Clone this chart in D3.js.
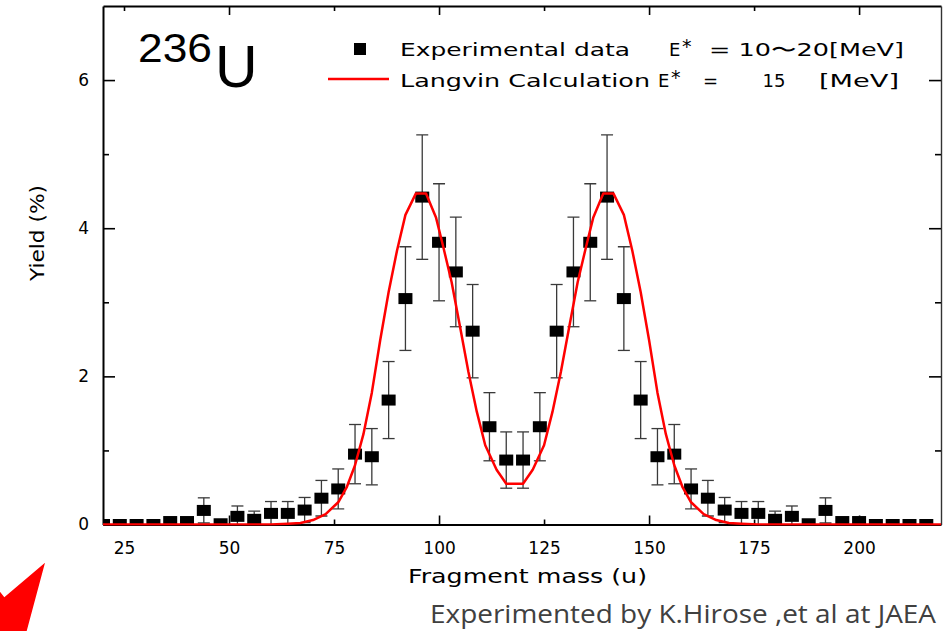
<!DOCTYPE html>
<html>
<head>
<meta charset="utf-8">
<script src="https://cdn.jsdelivr.net/npm/d3@7"></script>
<style>
  html, body { margin: 0; padding: 0; background: #fff; }
  svg { display: block; }
</style>
</head>
<body>
<div id="chart"></div>
<script>
// measured fission fragment yields of 236U (mass in u, yield in %)
const massValues = [20, 24, 28, 32, 36, 40, 44, 48, 52, 56, 60, 64, 68, 72, 76, 80, 84, 88, 92, 96,
  100, 104, 108, 112, 116, 120, 124, 128, 132, 136, 140, 144, 148, 152, 156, 160, 164, 168, 172, 176,
  180, 184, 188, 192, 196, 200, 204, 208, 212, 216];
const yieldValues = [0, 0, 0, 0, 0.04, 0.04, 0.19, 0.01, 0.11, 0.07, 0.15, 0.15, 0.195, 0.355, 0.48, 0.95, 0.915, 1.68, 3.05, 4.42,
  3.81, 3.41, 2.61, 1.32, 0.87, 0.87, 1.32, 2.61, 3.41, 3.81, 4.42, 3.05, 1.68, 0.915, 0.95, 0.48, 0.355, 0.195, 0.15, 0.15,
  0.07, 0.11, 0.01, 0.19, 0.04, 0.04, 0, 0, 0, 0];
const yieldErrors = [0, 0, 0, 0, 0.02, 0.02, 0.17, 0, 0.14, 0.11, 0.16, 0.16, 0.17, 0.24, 0.27, 0.4, 0.38, 0.52, 0.7, 0.84,
  0.79, 0.74, 0.63, 0.46, 0.38, 0.38, 0.46, 0.63, 0.74, 0.79, 0.84, 0.7, 0.52, 0.38, 0.4, 0.27, 0.24, 0.17, 0.16, 0.16,
  0.11, 0.14, 0, 0.17, 0.02, 0.02, 0, 0, 0, 0];

// Langevin calculation (E* = 15 MeV)
const calcMass = [20, 40, 60, 64, 67, 70, 73, 76, 78, 80, 82, 84, 86, 88, 90, 92, 94.5, 96.9, 99.3, 101,
  103, 105, 107, 109, 111, 113.7, 116, 120, 122.3, 125, 127, 129, 131, 133, 135, 136.7, 139.1, 141.5, 144, 146,
  148, 150, 152, 154, 156, 158, 160, 163, 166, 169, 172, 176, 196, 220];
const calcYield = [0, 0, 0, 0.01, 0.02, 0.06, 0.14, 0.3, 0.5, 0.8, 1.22, 1.78, 2.49, 3.14, 3.7, 4.18, 4.47, 4.47, 4.14, 3.75,
  3.27, 2.67, 2.06, 1.52, 1.07, 0.74, 0.55, 0.55, 0.74, 1.07, 1.52, 2.06, 2.67, 3.27, 3.75, 4.14, 4.47, 4.47, 4.18, 3.7,
  3.14, 2.49, 1.78, 1.22, 0.8, 0.5, 0.3, 0.14, 0.06, 0.02, 0.01, 0, 0, 0];

const xTickValues = [25, 50, 75, 100, 125, 150, 175, 200];
const yTickValues = [0, 1, 2, 3, 4, 5, 6];
const yTickLabels = ["0", "", "2", "", "4", "", "6"];

const width = 943;
const height = 631;
const margin = { top: 6, right: 2, bottom: 106.5, left: 103 };
const tickFont = "'DejaVu Sans', sans-serif";
const labelFont = "'DejaVu Sans', sans-serif";

const svg = d3.select("#chart").append("svg")
  .attr("width", width)
  .attr("height", height)
  .attr("viewBox", `0 0 ${width} ${height}`);

const x = d3.scaleLinear().domain([20, 219.5]).range([margin.left, width - margin.right]);
const y = d3.scaleLinear().domain([0, 7]).range([height - margin.bottom, margin.top]);

// clip areas: markers stop at the frame, the curve may sit on the axis line
const defs = svg.append("defs");
defs.append("clipPath").attr("id", "plot-clip")
  .append("rect")
  .attr("x", margin.left).attr("y", margin.top)
  .attr("width", width - margin.left - margin.right)
  .attr("height", height - margin.top - margin.bottom);
defs.append("clipPath").attr("id", "curve-clip")
  .append("rect")
  .attr("x", margin.left).attr("y", margin.top)
  .attr("width", width - margin.left - margin.right)
  .attr("height", height - margin.top - margin.bottom + 1);

// axes, ticks point inward
const bottomAxis = svg.append("g")
  .attr("transform", `translate(0,${y(0)})`)
  .call(d3.axisBottom(x).tickValues(xTickValues).tickSize(-9).tickPadding(17.5).tickSizeOuter(0));
const topAxis = svg.append("g")
  .attr("transform", `translate(0,${y(7)})`)
  .call(d3.axisTop(x).tickValues(xTickValues).tickSize(-9).tickFormat("").tickSizeOuter(0));
const leftAxis = svg.append("g")
  .attr("transform", `translate(${x.range()[0]},0)`)
  .call(d3.axisLeft(y).tickValues(yTickValues).tickSize(-12).tickPadding(14).tickSizeOuter(0)
    .tickFormat((d, i) => yTickLabels[i]));
const rightAxis = svg.append("g")
  .attr("transform", `translate(${x.range()[1]},0)`)
  .call(d3.axisRight(y).tickValues(yTickValues).tickSize(-12).tickFormat("").tickSizeOuter(0));

// majors every 50 u / 2 %, minors in between
bottomAxis.selectAll(".tick line").attr("y2", (d) => (d % 50 === 0 ? -9 : -5));
topAxis.selectAll(".tick line").attr("y2", (d) => (d % 50 === 0 ? 9 : 5));
leftAxis.selectAll(".tick line").attr("x2", (d) => (d % 2 === 0 ? 12 : 6));
rightAxis.selectAll(".tick line").attr("x2", (d) => (d % 2 === 0 ? -12 : -6));
svg.selectAll(".tick line").attr("stroke-width", 1.6);

[bottomAxis, topAxis, leftAxis].forEach((g) => {
  g.select(".domain").attr("stroke-width", 2);
});
rightAxis.select(".domain").attr("stroke-width", 1.4).attr("stroke", "#333");

svg.selectAll(".tick text")
  .style("font-family", tickFont)
  .style("font-size", "17px")
  .attr("fill", "#000");

// axis titles
svg.append("text")
  .attr("x", 408)
  .attr("y", 583)
  .attr("textLength", 239)
  .attr("lengthAdjust", "spacingAndGlyphs")
  .style("font-family", labelFont)
  .style("font-size", "20px")
  .text("Fragment mass (u)");

svg.append("text")
  .attr("transform", "translate(44,233) rotate(-90)")
  .attr("text-anchor", "middle")
  .attr("textLength", 96)
  .attr("lengthAdjust", "spacingAndGlyphs")
  .style("font-family", labelFont)
  .style("font-size", "19px")
  .text("Yield (%)");

// error bars
const points = massValues.map((m, i) => ({ mass: m, value: yieldValues[i], err: yieldErrors[i] }));
const plot = svg.append("g").attr("clip-path", "url(#plot-clip)");

const bars = plot.append("g")
  .selectAll("g")
  .data(points.filter((d) => d.err > 0))
  .join("g")
  .attr("stroke", "#3a3a3a")
  .attr("stroke-width", 1.3);
bars.append("line")
  .attr("x1", (d) => x(d.mass)).attr("x2", (d) => x(d.mass))
  .attr("y1", (d) => y(d.value - d.err)).attr("y2", (d) => y(d.value + d.err));
bars.append("line")
  .attr("x1", (d) => x(d.mass) - 6).attr("x2", (d) => x(d.mass) + 6)
  .attr("y1", (d) => y(d.value + d.err)).attr("y2", (d) => y(d.value + d.err));
bars.append("line")
  .attr("x1", (d) => x(d.mass) - 6).attr("x2", (d) => x(d.mass) + 6)
  .attr("y1", (d) => y(d.value - d.err)).attr("y2", (d) => y(d.value - d.err));

// square markers
plot.append("g")
  .selectAll("rect")
  .data(points)
  .join("rect")
  .attr("x", (d) => x(d.mass) - 7)
  .attr("y", (d) => y(d.value) - 5.5)
  .attr("width", 14)
  .attr("height", 11)
  .attr("fill", "#000");

// calculation curve
const calc = calcMass.map((m, i) => ({ mass: m, value: calcYield[i] }));
svg.append("path")
  .datum(calc)
  .attr("clip-path", "url(#curve-clip)")
  .attr("fill", "none")
  .attr("stroke", "#ff0000")
  .attr("stroke-width", 2.5)
  .attr("stroke-linejoin", "round")
  .attr("d", d3.line().x((d) => x(d.mass)).y((d) => y(d.value)));

// nucleus label
svg.append("text")
  .attr("x", 138)
  .attr("y", 62)
  .attr("textLength", 74)
  .attr("lengthAdjust", "spacingAndGlyphs")
  .style("font-family", "'Liberation Sans', Arial, sans-serif")
  .style("font-size", "41px")
  .text("236");
svg.append("text")
  .attr("x", 215)
  .attr("y", 87)
  .style("font-family", "'Liberation Sans', Arial, sans-serif")
  .style("font-size", "59px")
  .text("U");

// legend
const addText = function (xPos, yPos, str, len, anchor) {
  const t = svg.append("text")
    .attr("x", xPos)
    .attr("y", yPos)
    .attr("text-anchor", anchor || "start")
    .style("font-family", labelFont)
    .style("font-size", "18px")
    .text(str);
  if (len) t.attr("textLength", len).attr("lengthAdjust", "spacingAndGlyphs");
  return t;
};

svg.append("rect")
  .attr("x", 354).attr("y", 43)
  .attr("width", 12).attr("height", 12)
  .attr("fill", "#000");
addText(400, 56, "Experimental data", 230);
addText(669, 56, "E");
addText(682, 53, "*").style("font-size", "19px");
addText(709, 56, "= 10〜20[MeV]", 195);

svg.append("line")
  .attr("x1", 328).attr("x2", 389)
  .attr("y1", 79).attr("y2", 79)
  .attr("stroke", "#ff0000")
  .attr("stroke-width", 2.5);
addText(400, 87, "Langvin Calculation", 250);
addText(658, 87, "E");
addText(671, 84, "*").style("font-size", "19px");
addText(703, 87, "=");
addText(774, 87, "15", null, "middle");
addText(819, 87, "[MeV]", 80);

// footer credit
svg.append("text")
  .attr("x", 430)
  .attr("y", 623)
  .attr("textLength", 506)
  .attr("lengthAdjust", "spacingAndGlyphs")
  .style("font-family", "'Open Sans', sans-serif")
  .style("font-size", "25px")
  .attr("fill", "#404040")
  .text("Experimented by K.Hirose ,et al at JAEA");

// red arrow tip in the lower left corner
svg.append("path")
  .attr("d", "M0,591.7 L4.3,597.3 L45,562.7 L26.7,631 L0,631 Z")
  .attr("fill", "#ff0000");
</script>
</body>
</html>
